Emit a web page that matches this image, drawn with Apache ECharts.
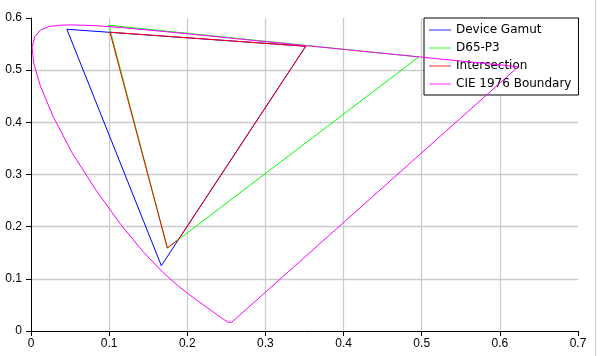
<!DOCTYPE html>
<html>
<head>
<meta charset="utf-8">
<script src="https://cdn.jsdelivr.net/npm/echarts@6/dist/echarts.min.js"></script>
<style>
html,body{margin:0;padding:0;background:#fff;}
#chart{width:600px;height:356px;}
</style>
</head>
<body>
<div id="chart"></div>
<script>
// Series names
var seriesNames = ['Device Gamut', 'D65-P3', 'Intersection', 'CIE 1976 Boundary'];

// Device gamut triangle (u', v'), closed
var deviceU = [0.0459, 0.3516, 0.1668, 0.0459];
var deviceV = [0.5784, 0.5459, 0.1252, 0.5784];

// D65-P3 triangle (u', v'), closed
var p3U = [0.0997, 0.4964, 0.1745, 0.0997];
var p3V = [0.5860, 0.5254, 0.1591, 0.5860];

// Intersection polygon (u', v'), closed
var interU = [0.1010, 0.3516, 0.1888, 0.1745, 0.1010];
var interV = [0.5728, 0.5459, 0.1756, 0.1591, 0.5728];

// CIE 1976 spectral locus + purple line (u', v'), closed
var locusU = [0.2568, 0.2557, 0.2522, 0.2461, 0.2347, 0.2161, 0.2033, 0.1877, 0.1690, 0.1441,
              0.1147, 0.0828, 0.0521, 0.0282, 0.0119, 0.0035, 0.0014, 0.0046, 0.0123, 0.0231,
              0.0360, 0.0501, 0.0792, 0.1127, 0.1531, 0.2026, 0.2623, 0.3315, 0.4035, 0.4692,
              0.5203, 0.5830, 0.6109, 0.6234, 0.2568];
var locusV = [0.0166, 0.0159, 0.0169, 0.0226, 0.0350, 0.0549, 0.0688, 0.0871, 0.1119, 0.1510,
              0.2044, 0.2708, 0.3427, 0.4117, 0.4698, 0.5130, 0.5432, 0.5638, 0.5770, 0.5837,
              0.5861, 0.5868, 0.5856, 0.5821, 0.5766, 0.5694, 0.5604, 0.5501, 0.5393, 0.5296,
              0.5219, 0.5125, 0.5084, 0.5065, 0.0166];

var colors = ['#0000ff', '#00ff00', '#ff0000', '#ff00ff'];

function zip(a, b) { var r = []; for (var i = 0; i < a.length; i++) r.push([a[i], b[i]]); return r; }

var dataSets = [zip(deviceU, deviceV), zip(p3U, p3V), zip(interU, interV), zip(locusU, locusV)];

var chart = echarts.init(document.getElementById('chart'), null, {renderer: 'canvas'});
var labelFont = {fontFamily: 'Liberation Sans', fontSize: 12, color: '#000'};
var lineIcon = 'path://M0,0 L22,0 L22,1.2 L0,1.2 Z';

chart.setOption({
  animation: false,
  backgroundColor: '#ffffff',
  grid: {left: 31, right: 22, top: 18, bottom: 25, containLabel: false},
  xAxis: {
    type: 'value', min: 0, max: 0.7, interval: 0.1,
    axisLine: {show: true, onZero: false, lineStyle: {color: '#000', width: 1}},
    axisTick: {show: true, length: 5, lineStyle: {color: '#000'}},
    axisLabel: Object.assign({margin: 7}, labelFont),
    splitLine: {show: true, showMinLine: false, showMaxLine: false, lineStyle: {color: '#cccccc', width: 1.3}}
  },
  yAxis: {
    type: 'value', min: 0, max: 0.6, interval: 0.1,
    axisLine: {show: true, onZero: false, lineStyle: {color: '#000', width: 1}},
    axisTick: {show: true, length: 5, lineStyle: {color: '#000'}},
    axisLabel: Object.assign({margin: 9}, labelFont),
    splitLine: {show: true, showMinLine: false, showMaxLine: false, lineStyle: {color: '#cccccc', width: 1.3}}
  },
  legend: {
    orient: 'vertical',
    left: 424, top: 18,
    padding: [6, 7, 5, 5],
    itemWidth: 22, itemHeight: 12, itemGap: 6,
    symbolKeepAspect: true,
    backgroundColor: '#ffffff',
    borderColor: '#000', borderWidth: 1, borderRadius: 0,
    textStyle: {fontFamily: 'DejaVu Sans', fontSize: 12, color: '#000'},
    data: seriesNames.map(function (n, i) {
      return {name: n, icon: lineIcon, itemStyle: {color: colors[i], opacity: 0.7}};
    })
  },
  graphic: [{
    type: 'line', shape: {x1: 595.5, y1: 0, x2: 595.5, y2: 356},
    style: {stroke: '#cccccc', lineWidth: 1}, silent: true
  }],
  series: seriesNames.map(function (n, i) {
    return {
      name: n, type: 'line', data: dataSets[i],
      symbol: 'none', showSymbol: false, smooth: false,
      color: colors[i],
      lineStyle: {color: colors[i], width: 1},
      z: 2 + i
    };
  })
});
</script>
</body>
</html>
